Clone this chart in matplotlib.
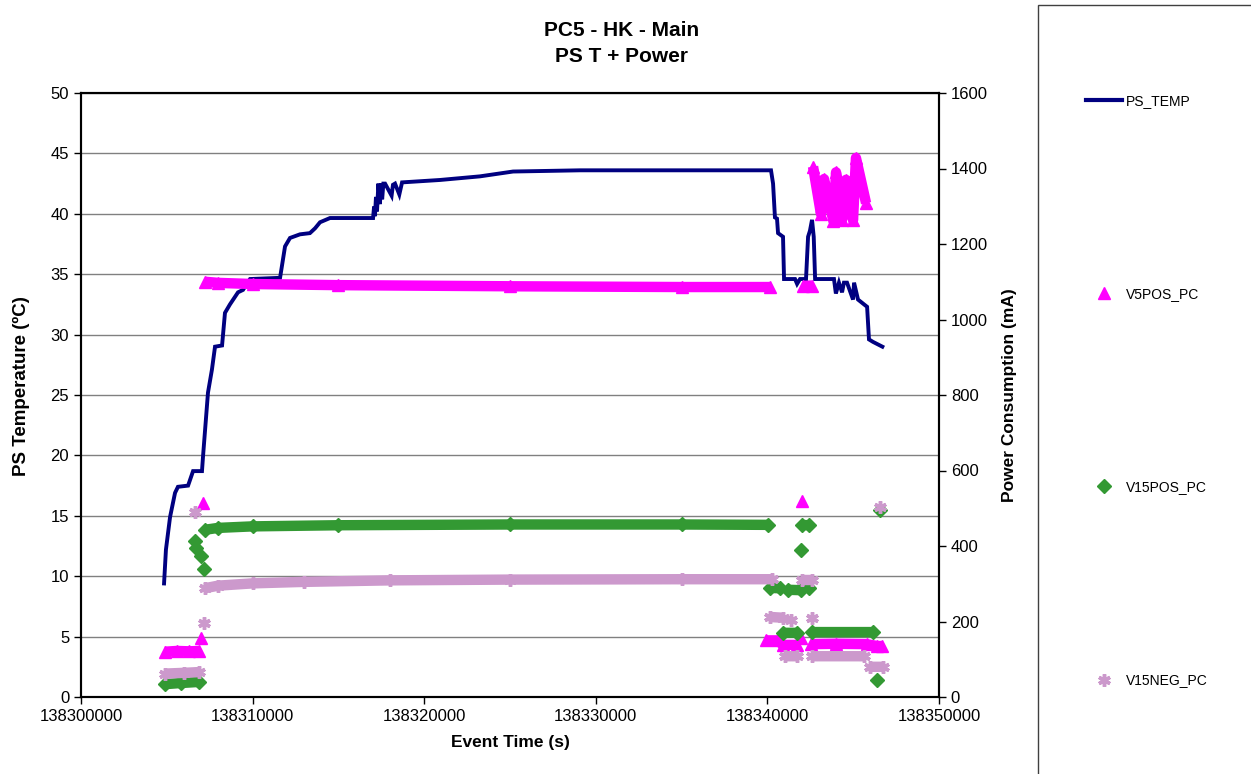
import numpy as np
import matplotlib
matplotlib.use("Agg")
import matplotlib.pyplot as plt
from matplotlib.lines import Line2D
from matplotlib.patches import Rectangle

nan = np.nan
T0 = 138300000

# PS temperature trace (seconds after T0, degC)
temp_t = [4840, 4950, 5190, 5480, 5650, 6240, 6530, 7050, 7110, 7400, 7630, 7810, 8220,
          8390, 8680, 9150, 9440, 9850, 11600, 11890, 12180, 12760, 13340, 13640, 13930,
          14510, 17020, 17080, 17130, 17190, 17250, 17330, 17420, 17480, 17550, 17620,
          17720, 18100, 18180, 18300, 18550, 18710, 20920, 23250, 25180, 27160, 29080,
          40210, 40330, 40440, 40560, 40620, 40910, 40970, 41610, 41730, 41900, 42250,
          42370, 42480, 42600, 42700, 42780, 43880, 43990, 44170, 44350, 44460, 44640,
          44990, 45050, 45280, 45810, 45920, 46150, 46700]
temp_c = [9.4, 12.2, 14.9, 16.9, 17.4, 17.5, 18.7, 18.7, 19.9, 25.2, 27.1, 29.0, 29.1,
          31.8, 32.5, 33.5, 33.7, 34.6, 34.7, 37.3, 38.0, 38.3, 38.4, 38.8, 39.3,
          39.65, 39.65, 40.6, 39.8, 41.4, 40.2, 42.5, 40.8, 42.5, 41.2, 42.5,
          42.5, 41.5, 42.4, 42.5, 41.6, 42.6, 42.8, 43.1, 43.5, 43.55, 43.6,
          43.6, 42.5, 39.7, 39.6, 38.4, 38.1, 34.6, 34.6, 34.2, 34.6, 34.6,
          38.1, 38.6, 39.5, 38.1, 34.6, 34.6, 33.4, 34.3, 33.5, 34.3, 34.3,
          32.9, 34.3, 32.9, 32.3, 29.6, 29.4, 29.0]

# power consumption per rail (seconds after T0, mA); nan separates runs
v5_t = [4900, 5600, 6300, 6900, nan, 6990, nan, 7110, nan,
        7230, 8000, 10000, 15000, 25000, 35000, 40150, nan,
        39900, 40600, 40900, 41700, nan, 41950, nan, 42016, nan,
        42080, 42600, nan,
        42660, 43120, 43300, 43850, 44000, 44350, 44580, 44990, 45160, 45750, nan,
        42550, 44000, 45800, 46400, 46680]
v5_ma = [120, 122, 121, 122, nan, 156, nan, 513, nan,
         1100, 1097, 1094, 1091, 1088, 1086, 1086, nan,
         150, 150, 138, 138, nan, 156, nan, 520, nan,
         1089, 1090, nan,
         1405, 1280, 1372, 1260, 1390, 1264, 1370, 1263, 1428, 1308, nan,
         140, 141, 140, 135, 135]

v15p_t = [4900, 5800, 6900, nan, 6640, nan, 6700, nan, 6990, nan, 7170, nan,
          7230, 8000, 10000, 15000, 25000, 35000, 40040, nan,
          41960, nan, 42000, 42400, nan,
          40150, 40750, nan, 41200, 41950, nan, 42400, nan,
          40900, 41700, nan, 42600, 46150, nan, 46390, nan, 46560]
v15p_ma = [34, 37, 40, nan, 413, nan, 395, nan, 373, nan, 339, nan,
           443, 448, 452, 455, 457, 457, 456, nan,
           389, nan, 456, 455, nan,
           289, 288, nan, 284, 283, nan, 289, nan,
           170, 170, nan, 172, 172, nan, 45, nan, 495]

v15n_t = [4900, 6000, 6900, nan, 6640, nan, 7170, nan,
          7200, 8000, 10000, 13000, 18000, 25000, 35000, 40250, nan,
          42020, 42600, nan,
          40150, 40900, nan, 41400, nan, 42600, nan,
          41000, 41700, nan, 42600, 45650, nan, 45950, 46750, nan, 46560]
v15n_ma = [62, 64, 66, nan, 490, nan, 197, nan,
           288, 295, 301, 305, 309, 311, 312, 312, nan,
           310, 310, nan,
           212, 210, nan, 205, nan, 209, nan,
           108, 108, nan, 108, 108, nan, 80, 80, nan, 503]

x_ticks = np.arange(T0, T0 + 50001, 10000)

NAVY = "#000080"
MAGENTA = "#FF00FF"
GREEN = "#339933"
LILAC = "#CC99CC"
STAR = (6, 2, 0)

plt.rcParams.update({
    "font.family": ["Liberation Sans", "DejaVu Sans"],
    "font.size": 12,
})

fig = plt.figure(figsize=(12.51, 7.74), dpi=100)
ax = fig.add_axes([81 / 1251, 1 - 697 / 774, (939 - 81) / 1251, (697 - 93) / 774])
ax2 = ax.twinx()

ax.plot(T0 + np.array(temp_t), temp_c, color=NAVY, lw=2.8, solid_joinstyle="miter")

band_lw = 7.5
ax2.plot(T0 + np.array(v5_t), v5_ma, color=MAGENTA, lw=band_lw, solid_capstyle="butt",
         marker="^", ms=8.5, mec=MAGENTA)
ax2.plot(T0 + np.array(v15p_t), v15p_ma, color=GREEN, lw=band_lw, solid_capstyle="butt",
         marker="D", ms=7, mec=GREEN)
ax2.plot(T0 + np.array(v15n_t), v15n_ma, color=LILAC, lw=band_lw, solid_capstyle="butt",
         marker=STAR, ms=9, mew=2.5, mec=LILAC)

ax.set_xlim(T0, T0 + 50000)
ax.set_ylim(0, 50)
ax2.set_ylim(0, 1600)
ax.set_xticks(x_ticks)
ax.set_xticklabels([str(int(v)) for v in x_ticks])
ax.set_yticks(np.arange(0, 51, 5))
ax2.set_yticks(np.arange(0, 1601, 200))

ax.grid(axis="y", color="#808080", lw=1)
for a in (ax, ax2):
    a.tick_params(direction="out", length=5, width=1, color="black", labelsize=12)
    for s in a.spines.values():
        s.set_color("black")
        s.set_linewidth(1.5)

ax.set_xlabel("Event Time (s)", fontweight="bold", fontsize=12.5, labelpad=8)
ax.set_ylabel("PS Temperature (ºC)", fontweight="bold", fontsize=13.5)
ax.yaxis.set_label_coords(-0.059, 0.515)
ax2.set_ylabel("Power Consumption (mA)", fontweight="bold", fontsize=12.5, labelpad=10)

fig.text(0.497, 1 - 43.5 / 774, "PC5 - HK - Main\nPS T + Power", ha="center", va="center",
         fontsize=15, fontweight="bold", linespacing=1.5)

# legend panel on the right
fig.add_artist(Rectangle((1038 / 1251, -0.02), 0.2, 1.02 - 5 / 774,
                         transform=fig.transFigure, fill=False, ec="#404040", lw=1))
handles = [
    Line2D([], [], color=NAVY, lw=3),
    Line2D([], [], color=MAGENTA, ls="none", marker="^", ms=8.5),
    Line2D([], [], color=GREEN, ls="none", marker="D", ms=7),
    Line2D([], [], color=LILAC, ls="none", marker=STAR, ms=9, mew=2.5),
]
labels = ["PS_TEMP", "V5POS_PC", "V15POS_PC", "V15NEG_PC"]
fig.legend(handles, labels, loc="upper left", bbox_to_anchor=(1086 / 1251, 1 - 94 / 774),
           frameon=False, fontsize=10, handlelength=2.6, handletextpad=0.25,
           labelspacing=12.9, borderpad=0, borderaxespad=0)

fig.savefig("out.png", dpi=100)
